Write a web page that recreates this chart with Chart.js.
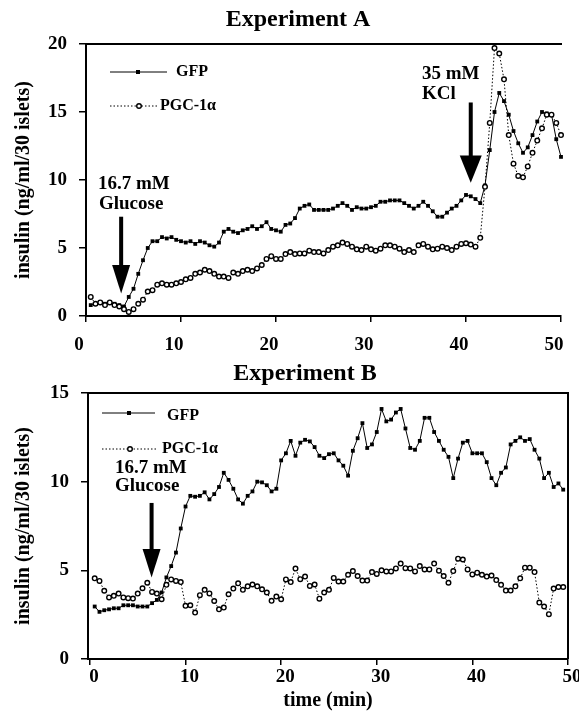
<!DOCTYPE html>
<html><head><meta charset="utf-8">
<script src="https://cdn.jsdelivr.net/npm/chart.js@4/dist/chart.umd.min.js"></script>
<style>
html,body{margin:0;padding:0;background:#fff;}
#wrap{position:relative;width:579px;height:715px;background:#fff;}
canvas{position:absolute;left:0;}
</style></head><body>
<div id="wrap">
<canvas id="cA" width="579" height="356" style="top:0px"></canvas>
<canvas id="cB" width="579" height="359" style="top:356px"></canvas>
</div>
<script>
// ---------- DATA ----------
const timeA = [0.5,1,1.5,2,2.5,3,3.5,4,4.5,5,5.5,6,6.5,7,7.5,8,8.5,9,9.5,10,
  10.5,11,11.5,12,12.5,13,13.5,14,14.5,15,15.5,16,16.5,17,17.5,18,18.5,19,19.5,20,
  20.5,21,21.5,22,22.5,23,23.5,24,24.5,25,25.5,26,26.5,27,27.5,28,28.5,29,29.5,30,
  30.5,31,31.5,32,32.5,33,33.5,34,34.5,35,35.5,36,36.5,37,37.5,38,38.5,39,39.5,40,
  40.5,41,41.5,42,42.5,43,43.5,44,44.5,45,45.5,46,46.5,47,47.5,48,48.5,49,49.5,50];
const gfpA = [0.8,0.9,1.0,0.9,1.0,0.9,0.8,0.7,1.4,2.0,
  3.1,4.1,5.0,5.5,5.5,5.8,5.7,5.8,5.6,5.5,
  5.4,5.5,5.3,5.5,5.4,5.2,5.1,5.4,6.2,6.4,
  6.2,6.1,6.3,6.4,6.6,6.4,6.6,6.9,6.4,6.3,
  6.2,6.7,6.8,7.2,7.9,8.1,8.2,7.8,7.8,7.8,
  7.8,7.9,8.1,8.3,8.1,7.8,8.0,7.9,7.9,8.0,
  8.1,8.4,8.4,8.5,8.5,8.5,8.3,8.1,7.9,8.1,
  8.4,8.1,7.7,7.3,7.3,7.6,7.9,8.1,8.5,8.9,
  8.8,8.6,8.3,9.6,12.2,15.0,16.4,15.8,14.8,13.6,
  12.7,12.0,12.4,13.3,14.3,15.0,14.9,14.8,13.0,11.7];
const pgcA = [1.4,0.9,1.0,0.8,1.0,0.8,0.7,0.5,0.3,0.5,
  0.9,1.2,1.8,1.9,2.3,2.4,2.3,2.3,2.4,2.5,
  2.7,2.8,3.1,3.2,3.4,3.3,3.1,2.9,2.9,2.8,
  3.2,3.1,3.3,3.4,3.3,3.5,3.75,4.2,4.4,4.2,
  4.2,4.55,4.7,4.55,4.6,4.6,4.8,4.7,4.7,4.6,
  4.85,5.1,5.2,5.4,5.3,5.1,4.9,4.85,5.1,4.9,
  4.8,4.95,5.2,5.2,5.1,4.95,4.7,4.85,4.7,5.2,
  5.3,5.1,4.9,4.95,5.1,5.0,4.85,5.1,5.3,5.35,
  5.25,5.1,5.75,9.5,14.2,19.7,19.3,17.4,13.3,11.2,
  10.3,10.2,11.0,12.0,12.9,13.8,14.8,14.8,14.2,13.3];

const timeB = [0.5,1,1.5,2,2.5,3,3.5,4,4.5,5,5.5,6,6.5,7,7.5,8,8.5,9,9.5,10,
  10.5,11,11.5,12,12.5,13,13.5,14,14.5,15,15.5,16,16.5,17,17.5,18,18.5,19,19.5,20,
  20.5,21,21.5,22,22.5,23,23.5,24,24.5,25,25.5,26,26.5,27,27.5,28,28.5,29,29.5,30,
  30.5,31,31.5,32,32.5,33,33.5,34,34.5,35,35.5,36,36.5,37,37.5,38,38.5,39,39.5,40,
  40.5,41,41.5,42,42.5,43,43.5,44,44.5,45,45.5,46,46.5,47,47.5,48,48.5,49,49.5];
const gfpB = [2.96,2.66,2.75,2.8,2.86,2.86,3.03,3.03,3.03,2.96,
  2.96,2.96,3.15,3.33,3.75,4.6,5.24,6.0,7.36,8.6,
  9.2,9.15,9.2,9.4,9.0,9.3,9.7,10.5,10.1,9.6,
  9.0,8.76,9.2,9.45,10.0,9.96,9.8,9.45,9.6,11.2,
  11.6,12.3,11.46,12.2,12.36,12.27,11.95,11.46,11.33,11.55,
  11.6,11.2,10.9,10.34,11.74,12.45,13.3,11.9,12.1,12.8,
  14.1,13.4,13.5,13.9,14.1,13.0,11.9,11.8,12.3,13.6,
  13.6,12.8,12.3,11.8,11.4,10.2,11.3,12.2,12.3,11.6,
  11.6,11.6,11.1,10.2,9.8,10.5,10.8,12.1,12.3,12.5,
  12.3,12.4,11.8,11.3,10.2,10.5,9.7,9.9,9.55];
const pgcB = [4.55,4.4,3.85,3.47,3.56,3.69,3.47,3.43,3.41,3.69,
  3.99,4.3,3.78,3.69,3.37,4.18,4.49,4.4,4.34,3.0,
  3.03,2.62,3.6,3.9,3.7,3.27,2.8,2.9,3.65,3.97,
  4.27,3.9,4.1,4.2,4.1,3.93,3.75,3.28,3.52,3.37,
  4.49,4.34,5.1,4.5,4.65,4.12,4.2,3.4,3.75,3.9,
  4.57,4.37,4.37,4.75,4.96,4.68,4.42,4.42,4.9,4.8,
  5.0,4.94,4.94,5.11,5.38,5.12,5.11,4.94,5.24,5.05,
  5.05,5.38,4.98,4.68,4.3,4.96,5.66,5.61,5.05,4.77,
  4.87,4.75,4.65,4.71,4.45,4.18,3.86,3.86,4.1,4.55,
  5.15,5.15,4.9,3.18,2.96,2.53,3.97,4.06,4.06];

const xTicks = [0,10,20,30,40,50];
const yTicksA = [0,5,10,15,20];
const yTicksB = [0,5,10,15];
const seriesNames = ['GFP','PGC-1\u03b1'];
const titles = ['Experiment A','Experiment B'];
const yTitle = 'insulin (ng/ml/30 islets)';
const xTitle = 'time (min)';

// ---------- STYLE ----------
const SERIF = "'Liberation Serif','Times New Roman',serif";
Chart.defaults.font.family = SERIF;
Chart.defaults.color = '#000';

function pts(t, v){ return t.map((x,i)=>({x:x, y:v[i]})); }

function datasets(t, g, p){
  return [
    {label: seriesNames[1], data: pts(t,p), borderColor:'#000', borderWidth:1, borderDash:[1.5,2],
     pointStyle:'circle', pointRadius:2.3, pointBorderWidth:1.4, pointBackgroundColor:'#fff',
     pointBorderColor:'#000', tension:0, clip:false},
    {label: seriesNames[0], data: pts(t,g), borderColor:'#000', borderWidth:1,
     pointStyle:'rect', pointRadius:2.7, pointBorderWidth:0, pointBackgroundColor:'#000',
     pointBorderColor:'#000', tension:0, clip:false}
  ];
}

function drawArrow(ctx, x, yTop, yBase, yTip, half, w){
  ctx.save(); ctx.fillStyle = '#000';
  ctx.fillRect(x - w/2, yTop, w, yBase - yTop + 1);
  ctx.beginPath(); ctx.moveTo(x - half, yBase); ctx.lineTo(x + half, yBase);
  ctx.lineTo(x, yTip); ctx.closePath(); ctx.fill(); ctx.restore();
}
function drawText(ctx, s, x, y, size, align, base){
  ctx.save(); ctx.fillStyle='#000'; ctx.font = 'bold ' + size + 'px ' + SERIF;
  ctx.textAlign = align || 'left'; ctx.textBaseline = base || 'middle'; ctx.fillText(s, x, y); ctx.restore();
}
function legend(ctx, x1, x2, y, mx, dashed, square, label, tx, ty){
  ctx.save(); ctx.strokeStyle='#000'; ctx.lineWidth=1;
  if (dashed) ctx.setLineDash([1.5,2]);
  ctx.beginPath(); ctx.moveTo(x1,y); ctx.lineTo(x2,y); ctx.stroke(); ctx.setLineDash([]);
  if (square){ ctx.fillStyle='#000'; ctx.fillRect(mx-2,y-2,4,4); }
  else { ctx.fillStyle='#fff'; ctx.lineWidth=1.4; ctx.beginPath(); ctx.arc(mx,y,2.3,0,Math.PI*2); ctx.fill(); ctx.stroke(); }
  ctx.restore();
  drawText(ctx, label, tx, ty, 16);
}

function frame(chart, top, right){
  const ctx = chart.ctx, a = chart.chartArea;
  ctx.save(); ctx.strokeStyle='#000'; ctx.lineWidth=2;
  if (top){ ctx.beginPath(); ctx.moveTo(a.left-1, a.top); ctx.lineTo(a.right+1, a.top); ctx.stroke(); }
  if (right){ ctx.beginPath(); ctx.moveTo(a.right, a.top); ctx.lineTo(a.right, a.bottom); ctx.stroke(); }
  ctx.restore();
}

function baseOptions(yMax, yTicks, xMin, xHeight, yWidth, yPadTitle, xTitleOn, topPad, rightPad, xLabelPad, xLabelOffset){
  return {
    responsive:false, animation:false, devicePixelRatio:1,
    layout:{padding:{left:8, right:rightPad, top:topPad, bottom:0}},
    plugins:{ legend:{display:false}, tooltip:{enabled:false}, title:{display:false} },
    scales:{
      x:{type:'linear', min:xMin, max:50,
        afterBuildTicks: s => { s.ticks = xTicks.map(v=>({value:v})); },
        afterFit: s => { s.height = xHeight; s.paddingLeft = 0; s.paddingRight = 0; },
        ticks:{font:{family:SERIF,size:19,weight:'bold'}, color:'#000', maxRotation:0, padding: xLabelPad, labelOffset: xLabelOffset},
        grid:{drawOnChartArea:false, drawTicks:true, tickLength:6, color:'#000', lineWidth:1.5},
        border:{display:true, color:'#000', width:2},
        title:{display:xTitleOn, text:xTitle, color:'#000', font:{family:SERIF,size:20,weight:'bold'}, padding:{top:0,bottom:2}}
      },
      y:{type:'linear', min:0, max:yMax,
        afterBuildTicks: s => { s.ticks = yTicks.map(v=>({value:v})); },
        afterFit: s => { s.width = yWidth; s.paddingTop = 0; s.paddingBottom = 0; },
        ticks:{font:{family:SERIF,size:19,weight:'bold'}, color:'#000', padding:12},
        grid:{drawOnChartArea:false, drawTicks:true, tickLength:7, color:'#000', lineWidth:1.5},
        border:{display:true, color:'#000', width:2},
        title:{display:true, text:yTitle, color:'#000', font:{family:SERIF,size:20,weight:'bold'}, padding:{top:yPadTitle,bottom:0}}
      }
    }
  };
}

// ---------- CHART A ----------
const optA = baseOptions(20, yTicksA, 0, 40, 78, 4, false, 44, 18, 12, -7);
new Chart(document.getElementById('cA'), {
  type:'line',
  data:{datasets: datasets(timeA, gfpA, pgcA)},
  options: optA,
  plugins:[{id:'annA', afterDatasetsDraw(chart){
    const ctx = chart.ctx, xs = chart.scales.x, ys = chart.scales.y;
    frame(chart, true, false);
    drawText(ctx, titles[0], 298, 26, 24, 'center', 'alphabetic');
    legend(ctx, 110, 167, 72, 138, false, true, seriesNames[0], 176, 72);
    legend(ctx, 110, 158, 106, 139, true, false, seriesNames[1], 160, 106);
    drawText(ctx, '16.7 mM', 98, 184, 19);
    drawText(ctx, 'Glucose', 99, 204, 19);
    drawArrow(ctx, xs.getPixelForValue(3.7), ys.getPixelForValue(7.3), ys.getPixelForValue(3.75), ys.getPixelForValue(1.65), 9, 4);
    drawText(ctx, '35 mM', 422, 74, 19);
    drawText(ctx, 'KCl', 422, 94, 19);
    drawArrow(ctx, xs.getPixelForValue(40.5), ys.getPixelForValue(15.7), ys.getPixelForValue(11.8), ys.getPixelForValue(9.8), 11, 4);
  }}]
});

// ---------- CHART B ----------
const optB = baseOptions(15, yTicksB, -0.2, 56, 80, 4, true, 37, 11, 1, 4);
new Chart(document.getElementById('cB'), {
  type:'line',
  data:{datasets: datasets(timeB, gfpB, pgcB)},
  options: optB,
  plugins:[{id:'annB', afterDatasetsDraw(chart){
    const ctx = chart.ctx, xs = chart.scales.x, ys = chart.scales.y;
    frame(chart, true, true);
    drawText(ctx, titles[1], 305, 24, 24, 'center', 'alphabetic');
    legend(ctx, 102, 155, 57, 129, false, true, seriesNames[0], 167, 60);
    legend(ctx, 102, 158, 93, 130, true, false, seriesNames[1], 162, 93);
    drawText(ctx, '16.7 mM', 115, 112, 19);
    drawText(ctx, 'Glucose', 115, 130, 19);
    drawArrow(ctx, xs.getPixelForValue(6.45), ys.getPixelForValue(8.8), ys.getPixelForValue(6.2), ys.getPixelForValue(4.6), 9, 4);
  }}]
});
</script>
</body></html>
